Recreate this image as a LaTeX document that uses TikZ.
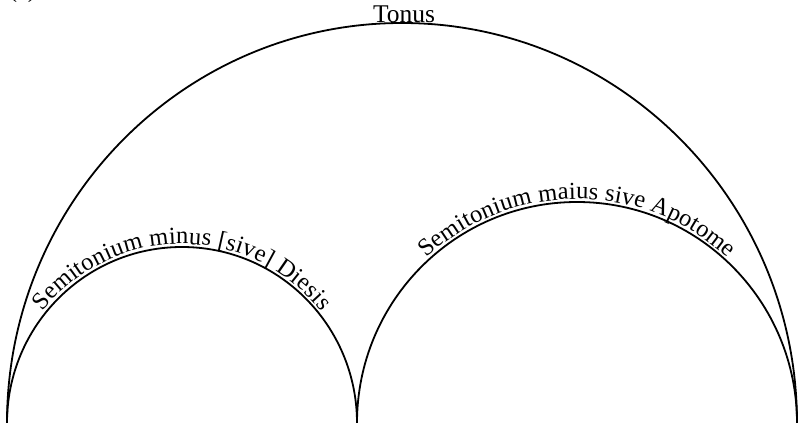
\documentclass[tikz,border=0pt]{standalone}
\usepackage{fontspec}
\setmainfont{Liberation Serif}
\usetikzlibrary{decorations.text}
\newcommand{\arcfont}{\fontsize{24.5}{30}\selectfont}
\newcommand{\topfont}{\fontsize{25.5}{30}\selectfont}
\tikzset{
  arcline/.style={draw=black, line width=1.8pt},
  arclabel/.style={decorate, decoration={text along path, text align=center, raise=3pt, text={|\arcfont|#1}}}
}
\begin{document}
\begin{tikzpicture}[x=1pt,y=1pt]
\useasboundingbox (0,0) rectangle (798,423);
\clip (0,0) rectangle (798,423);
% big arc
\path[arcline] (7,0) arc[start angle=180, end angle=0, x radius=395pt, y radius=400pt];
% left arc
\path[arcline] (7,0) arc[start angle=180, end angle=0, x radius=175pt, y radius=176pt];
\path[arclabel={Semitonium minus [sive] Diesis}] (7,0) arc[start angle=180, end angle=0, x radius=175pt, y radius=176pt];
% right arc
\path[arcline] (357,0) arc[start angle=180, end angle=0, x radius=220pt, y radius=221pt];
\path[arclabel={Semitonium maius sive Apotome}] (357,0) arc[start angle=180, end angle=0, x radius=220pt, y radius=221pt];
\node[anchor=base, font=\topfont, inner sep=0pt] (tonus) at (404,400) {Tonus};
\node[anchor=base west, font=\fontsize{24}{28}\selectfont, inner sep=0pt] (lbl) at (9,425) {(a)};
\end{tikzpicture}
\end{document}
